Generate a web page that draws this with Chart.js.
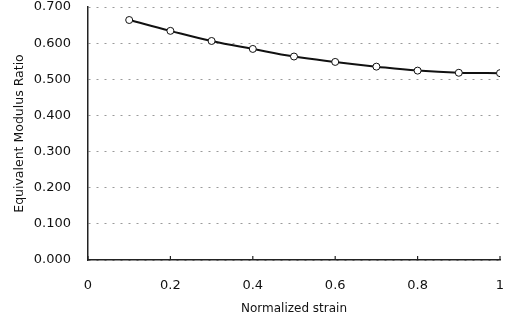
<!DOCTYPE html>
<html>
<head>
<meta charset="utf-8">
<script src="https://cdn.jsdelivr.net/npm/chart.js@4"></script>
<style>
  html, body { margin: 0; padding: 0; background: #fff; }
  #wrap { width: 505px; height: 322px; }
</style>
</head>
<body>
<div id="wrap"><canvas id="chart"></canvas></div>
<script>
const strain = [0.1, 0.2, 0.3, 0.4, 0.5, 0.6, 0.7, 0.8, 0.9, 1.0];
const modulusRatio = [0.664, 0.634, 0.606, 0.584, 0.563, 0.548, 0.535, 0.524, 0.518, 0.517];

const xTicks = [0, 0.2, 0.4, 0.6, 0.8, 1];
const yTicks = [0, 0.1, 0.2, 0.3, 0.4, 0.5, 0.6, 0.7];

const fontFamily = "'DejaVu Sans', Arial, sans-serif";

// small tick marks drawn inward from the x axis
const innerTicks = {
    id: 'innerTicks',
    afterDraw(chart) {
        const ctx = chart.ctx;
        const x = chart.scales.x;
        const y = chart.scales.y;
        const base = y.getPixelForValue(0);
        ctx.save();
        ctx.strokeStyle = '#222';
        ctx.lineWidth = 1.2;
        xTicks.forEach(v => {
            const px = x.getPixelForValue(v);
            ctx.beginPath();
            ctx.moveTo(px, base);
            ctx.lineTo(px, base - 4);
            ctx.stroke();
        });
        ctx.restore();
    }
};

const ctx = document.getElementById('chart').getContext('2d');
new Chart(ctx, {
    type: 'line',
    data: {
        datasets: [{
            data: strain.map((s, i) => ({ x: s, y: modulusRatio[i] })),
            borderColor: '#111',
            borderWidth: 2,
            pointRadius: 3.5,
            pointBorderWidth: 1,
            pointBackgroundColor: '#fff',
            pointBorderColor: '#111',
            tension: 0.4,
            fill: false
        }]
    },
    options: {
        responsive: true,
        maintainAspectRatio: false,
        animation: false,
        layout: { padding: { top: 7, right: 5, left: 0, bottom: 0 } },
        plugins: { legend: { display: false }, tooltip: { enabled: false } },
        scales: {
            x: {
                type: 'linear',
                min: 0,
                max: 1,
                afterBuildTicks: s => { s.ticks = xTicks.map(v => ({ value: v })); },
                afterFit: s => { s.height = 62; s.paddingRight = 0; s.paddingLeft = 0; },
                grid: { display: false, drawTicks: false },
                border: { color: '#222', width: 1.5 },
                ticks: {
                    color: '#111',
                    padding: 18,
                    maxRotation: 0,
                    font: { family: fontFamily, size: 13 },
                    callback: v => String(v)
                },
                title: {
                    display: true,
                    text: 'Normalized strain',
                    color: '#111',
                    font: { family: fontFamily, size: 12 },
                    padding: { top: 3, bottom: 6 }
                }
            },
            y: {
                min: 0,
                max: 0.7,
                afterBuildTicks: s => { s.ticks = yTicks.map(v => ({ value: v })); },
                afterFit: s => { s.width = 88; s.paddingTop = 0; s.paddingBottom = 0; },
                grid: {
                    color: '#9a9a9a',
                    lineWidth: 1,
                    drawTicks: false,
                    tickLength: 0
                },
                border: { color: '#222', width: 1.5, dash: [2, 6] },
                ticks: {
                    color: '#111',
                    padding: 17,
                    font: { family: fontFamily, size: 13 },
                    callback: v => v.toFixed(3)
                },
                title: {
                    display: true,
                    text: 'Equivalent Modulus Ratio',
                    color: '#111',
                    font: { family: fontFamily, size: 12.5 },
                    padding: { top: 12, bottom: 0 }
                }
            }
        }
    },
    plugins: [innerTicks]
});
</script>
</body>
</html>
